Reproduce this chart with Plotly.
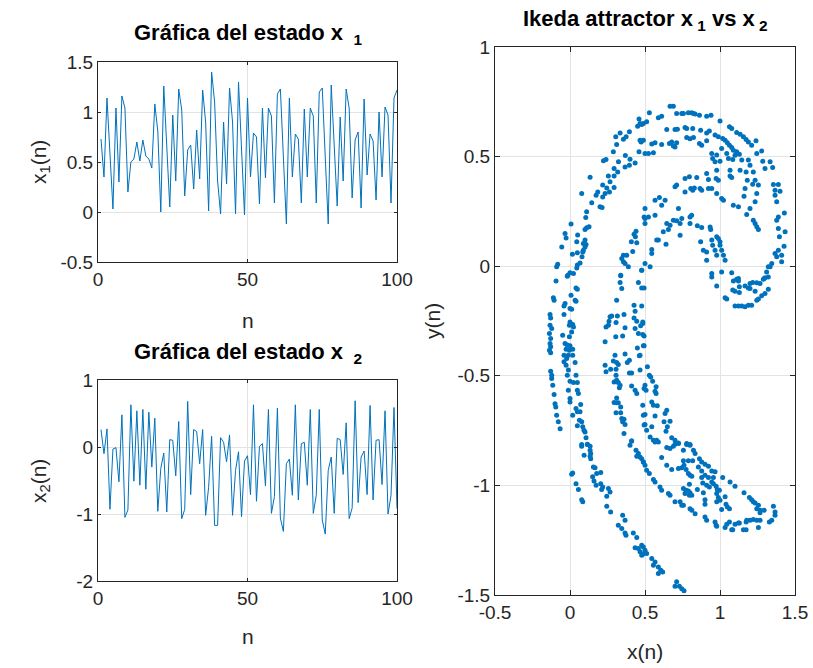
import plotly.graph_objects as go

# ---------------- time series ----------------
n = list(range(1, 101))

x1_vals = [0.73, 0.35, 1.14, 0.60, 0.03, 1.04, 0.30, 1.16, 1.04, 0.20,
           0.50, 0.53, 0.70, 0.51, 0.72, 0.56, 0.53, 0.44, 1.08, 0.81,
           0.00, 1.26, 0.60, 0.05, 0.97, 0.31, 1.23, 1.02, 0.16, 0.62,
           0.67, 0.23, 0.82, 0.33, 1.22, 0.90, 0.01, 1.40, 1.10, 0.31,
           -0.02, 0.90, 0.28, 1.24, 0.90, -0.02, 1.30, 0.57, -0.03, 1.14,
           0.35, 0.79, 0.75, 0.08, 1.04, 0.34, 1.04, 0.96, 0.09, 1.18,
           1.23, 0.55, -0.12, 1.14, 0.35, 0.78, 0.73, 0.09, 1.03, 0.35,
           1.04, 0.96, 0.09, 1.20, 1.24, 0.55, -0.12, 1.27, 0.60, 0.06,
           0.95, 0.31, 1.23, 1.04, 0.14, 0.72, 0.80, 0.04, 1.13, 0.37,
           0.78, 0.71, 0.12, 1.00, 0.35, 1.05, 0.97, 0.09, 1.14, 1.22]

x2_vals = [0.26, -0.10, 0.27, -0.93, -0.03, -0.01, -0.52, 0.48, -1.05, -0.94,
           0.63, -0.51, 0.54, -0.57, 0.56, -0.63, 0.52, -0.30, 0.43, -0.96,
           -0.32, -0.09, -0.97, 0.11, 0.10, -0.43, 0.38, -1.07, -0.93, 0.68,
           -0.71, 0.26, 0.23, -0.25, 0.26, -1.02, -0.60, 0.16, -1.17, -1.17,
           0.14, 0.07, -0.22, 0.18, -1.02, -0.35, -0.07, -1.04, -0.21, -0.13,
           -0.71, 0.63, -0.81, 0.01, 0.05, -0.58, 0.56, -0.99, -0.74, 0.58,
           -1.06, -1.26, -0.25, -0.18, -0.72, 0.63, -0.79, 0.05, 0.07, -0.57,
           0.56, -0.99, -0.72, 0.56, -1.09, -1.30, -0.35, -0.15, -0.99, 0.13,
           0.11, -0.41, 0.36, -1.07, -0.91, 0.69, -0.83, -0.15, -0.06, -0.71,
           0.62, -0.79, 0.10, 0.11, -0.56, 0.54, -1.00, -0.72, 0.59, -0.92]

# ---------------- attractor points (x, y) ----------------
upper_left_arcs = [
    [0.460, 0.671], [0.451, 0.639], [0.478, 0.646], [0.396, 0.613], [0.374, 0.590],
    [0.356, 0.579], [0.334, 0.608], [0.305, 0.590], [0.311, 0.555], [0.289, 0.522],
    [0.474, 0.567], [0.460, 0.522], [0.369, 0.505], [0.400, 0.488], [0.434, 0.471],
    [0.396, 0.461], [0.367, 0.453], [0.323, 0.476], [0.318, 0.430], [0.294, 0.446],
    [0.294, 0.411], [0.267, 0.385], [0.240, 0.487], [0.223, 0.481], [0.256, 0.412],
    [0.218, 0.370], [0.245, 0.357], [0.263, 0.339], [0.294, 0.359], [0.234, 0.332],
    [0.218, 0.316], [0.185, 0.339], [0.174, 0.324], [0.200, 0.271], [0.214, 0.268],
    [0.078, 0.332], [0.134, 0.406], [0.145, 0.289], [0.111, 0.248], [0.105, 0.222],
    [0.127, 0.180], [0.111, 0.175], [0.100, 0.167], [0.007, 0.192], [-0.033, 0.149],
    [-0.026, 0.129], [-0.055, 0.088], [0.051, 0.142], [0.045, 0.111], [0.100, 0.119],
    [0.089, 0.103], [0.107, 0.099], [0.100, 0.088], [0.089, 0.073], [0.085, 0.065],
    [0.049, 0.061], [0.016, 0.055], [0.080, 0.043], [0.067, 0.015], [0.049, 0.005],
    [0.045, -0.008], [0.000, -0.030], [-0.015, -0.041], [0.023, -0.033], [-0.082, 0.009],
    [-0.089, -0.003], [0.440, 0.160], [0.427, 0.146], [0.436, 0.134], [0.409, 0.111],
    [0.445, 0.107], [0.418, 0.067], [0.356, 0.050], [0.378, 0.050], [0.345, 0.035],
    [0.356, 0.020], [0.367, 0.012], [0.389, -0.003], [0.338, -0.041], [0.478, -0.018],
    [0.494, 0.225],
]

upper_right_arcs = [
    [0.667, 0.730], [0.689, 0.730], [0.711, 0.697], [0.745, 0.697], [0.756, 0.697],
    [0.789, 0.700], [0.811, 0.700], [0.823, 0.697], [0.834, 0.694], [0.863, 0.689],
    [0.911, 0.684], [0.940, 0.689], [1.000, 0.662], [1.063, 0.636], [1.078, 0.628],
    [1.111, 0.610], [1.134, 0.602], [1.156, 0.590], [1.174, 0.578], [1.189, 0.567],
    [1.240, 0.572], [1.211, 0.552], [1.245, 0.514], [1.278, 0.526], [1.285, 0.479],
    [1.300, 0.446], [1.334, 0.476], [1.351, 0.450], [1.356, 0.373], [1.389, 0.373],
    [1.367, 0.347], [1.400, 0.342], [1.367, 0.324], [1.378, 0.294], [1.429, 0.243],
    [1.389, 0.225], [1.378, 0.210], [1.434, 0.157], [1.389, 0.172], [1.396, 0.134],
    [1.427, 0.091], [1.389, 0.073], [1.367, 0.058], [1.411, 0.050], [1.378, 0.043],
    [1.411, 0.020], [1.345, 0.012], [1.334, -0.003], [1.311, -0.026], [1.294, -0.056],
    [0.467, 0.651], [0.489, 0.651], [0.511, 0.659], [0.529, 0.700], [0.589, 0.677],
    [0.611, 0.684], [0.467, 0.575], [0.489, 0.575], [0.500, 0.514], [0.523, 0.514],
    [0.556, 0.517], [0.545, 0.557], [0.567, 0.563],
    [0.645, 0.624], [0.700, 0.624], [0.716, 0.625], [0.767, 0.633], [0.778, 0.628],
    [0.818, 0.628], [0.871, 0.620], [0.911, 0.608], [0.929, 0.617], [0.967, 0.598],
    [0.989, 0.590], [1.018, 0.583], [1.034, 0.575], [1.049, 0.563], [1.063, 0.552],
    [1.078, 0.541], [1.089, 0.529], [1.111, 0.522], [1.129, 0.511], [1.145, 0.484],
    [1.189, 0.484], [1.200, 0.461], [1.222, 0.430], [1.234, 0.392], [1.218, 0.374],
    [1.256, 0.370], [1.245, 0.332], [1.160, 0.319], [1.234, 0.294], [1.200, 0.263],
    [1.178, 0.236], [1.222, 0.210], [1.234, 0.195], [1.245, 0.180], [1.256, 0.167],
    [0.611, 0.555], [0.663, 0.560], [0.678, 0.567], [0.689, 0.548], [0.711, 0.563],
    [0.700, 0.544], [0.778, 0.587], [0.800, 0.582], [0.823, 0.587], [0.863, 0.560],
    [0.878, 0.552], [0.911, 0.572], [0.945, 0.514], [0.951, 0.491], [0.978, 0.507],
    [0.967, 0.476], [1.000, 0.479], [1.011, 0.537], [1.045, 0.514], [1.056, 0.491],
    [1.085, 0.487], [1.100, 0.506], [0.978, 0.438], [0.974, 0.400], [0.989, 0.392],
    [1.067, 0.438], [1.067, 0.411], [1.078, 0.405], [1.134, 0.438], [1.174, 0.430],
    [1.182, 0.392], [1.167, 0.354],
    [0.767, 0.400], [0.796, 0.408], [0.845, 0.405], [0.911, 0.423], [0.923, 0.395],
    [0.867, 0.354], [0.818, 0.347], [0.805, 0.354], [0.829, 0.357], [0.767, 0.339],
    [0.700, 0.362], [0.711, 0.370], [0.878, 0.347], [0.923, 0.354], [0.945, 0.354],
    [0.978, 0.332], [1.011, 0.309], [1.023, 0.301], [1.089, 0.278], [1.123, 0.271],
    [0.567, 0.301], [0.596, 0.313], [0.634, 0.301], [0.611, 0.278], [0.500, 0.263],
    [0.567, 0.233], [0.523, 0.225], [0.500, 0.218], [0.500, 0.195], [0.723, 0.263],
    [0.811, 0.233], [0.800, 0.225], [0.689, 0.210], [0.711, 0.207], [0.745, 0.218],
    [0.645, 0.195], [0.667, 0.187], [0.734, 0.195], [0.622, 0.157], [0.656, 0.167],
    [0.734, 0.141], [0.800, 0.195], [0.849, 0.184], [0.878, 0.176], [0.934, 0.179],
    [0.938, 0.167], [0.978, 0.134], [0.989, 0.126], [1.000, 0.111], [0.945, 0.119],
    [1.000, 0.096], [1.011, 0.073], [1.023, 0.050], [1.034, 0.027], [0.871, 0.111],
    [0.889, 0.073], [0.911, 0.065], [0.951, 0.096], [0.967, 0.073], [0.911, 0.027],
    [0.978, 0.050], [0.589, 0.119], [0.578, 0.119], [0.640, 0.100], [0.545, 0.076],
    [0.545, 0.058], [0.500, 0.012], [0.534, -0.003], [0.478, -0.018], [0.945, -0.033],
    [1.011, -0.026], [1.078, -0.030], [1.123, -0.056], [1.322, -0.003],
]

middle_left_columns = [
    [-0.093, -0.068], [-0.111, -0.144], [-0.106, -0.155], [-0.133, -0.220], [-0.129, -0.236],
    [-0.133, -0.269], [-0.122, -0.284], [-0.137, -0.307], [-0.129, -0.330], [-0.133, -0.353],
    [-0.129, -0.368], [-0.137, -0.383], [-0.129, -0.395], [-0.129, -0.479], [-0.122, -0.497],
    [-0.122, -0.512], [-0.115, -0.543], [-0.106, -0.585], [-0.100, -0.627], [-0.095, -0.642],
    [-0.089, -0.680], [-0.078, -0.710], [-0.066, -0.741],
    [-0.018, -0.046], [0.040, -0.099], [0.049, -0.105], [0.007, -0.132], [0.034, -0.155],
    [0.040, -0.160], [-0.033, -0.170], [-0.040, -0.181], [0.000, -0.193], [0.011, -0.196],
    [-0.040, -0.220], [0.000, -0.254], [0.018, -0.266], [-0.004, -0.269], [0.023, -0.277],
    [0.011, -0.300], [-0.049, -0.315], [-0.004, -0.322], [-0.033, -0.353], [-0.018, -0.360],
    [0.000, -0.363], [-0.026, -0.379], [-0.004, -0.383], [0.018, -0.379], [-0.040, -0.406],
    [-0.011, -0.406], [0.018, -0.406], [-0.022, -0.421], [-0.040, -0.436], [0.034, -0.439],
    [-0.026, -0.452], [-0.011, -0.474], [-0.018, -0.497], [0.040, -0.497], [0.000, -0.525],
    [0.023, -0.531], [0.049, -0.531], [-0.011, -0.566], [0.049, -0.566], [0.056, -0.581],
    [0.000, -0.604], [0.000, -0.619], [0.071, -0.631], [0.040, -0.649], [0.049, -0.664],
    [0.067, -0.664], [0.018, -0.680], [0.063, -0.703], [0.078, -0.710], [0.049, -0.728],
    [0.085, -0.733], [0.093, -0.748], [0.100, -0.756], [0.107, -0.783], [0.078, -0.813],
    [0.116, -0.813],
    [0.338, -0.044], [0.334, -0.074], [0.345, -0.102], [0.311, -0.155], [0.456, -0.074],
    [0.478, -0.099], [0.427, -0.178], [0.360, -0.220], [0.316, -0.227], [0.278, -0.227],
    [0.267, -0.231], [0.307, -0.257], [0.260, -0.251], [0.240, -0.277], [0.256, -0.269],
    [0.367, -0.281], [0.427, -0.236], [0.434, -0.205], [0.445, -0.251], [0.434, -0.284],
    [0.456, -0.307], [0.485, -0.261], [0.489, -0.363], [0.305, -0.322], [0.351, -0.318],
    [0.234, -0.345], [0.449, -0.373], [0.462, -0.409], [0.300, -0.406], [0.367, -0.401],
    [0.289, -0.433], [0.311, -0.439], [0.322, -0.449], [0.382, -0.439], [0.396, -0.429],
    [0.234, -0.452], [0.271, -0.470], [0.240, -0.482], [0.307, -0.470], [0.396, -0.487],
    [0.411, -0.487], [0.307, -0.497], [0.311, -0.520], [0.322, -0.531], [0.334, -0.543],
    [0.294, -0.528], [0.411, -0.546], [0.329, -0.555], [0.434, -0.566], [0.445, -0.581],
    [0.494, -0.558], [0.311, -0.601], [0.294, -0.622], [0.311, -0.623], [0.322, -0.623],
    [0.338, -0.642], [0.307, -0.668], [0.338, -0.668], [0.345, -0.695], [0.360, -0.698],
    [0.351, -0.710], [0.367, -0.722], [0.360, -0.763], [0.411, -0.798], [0.485, -0.634],
    [0.489, -0.680], [0.494, -0.725],
]

middle_right_curl = [
    [0.945, -0.049], [0.978, -0.090], [1.089, -0.068], [1.111, -0.059], [1.123, -0.068],
    [1.085, -0.109], [1.100, -0.114], [1.129, -0.094], [1.129, -0.120], [1.167, -0.090],
    [1.189, -0.099], [1.200, -0.102], [1.200, -0.079], [1.218, -0.074], [1.234, -0.114],
    [1.245, -0.076], [1.267, -0.079], [1.289, -0.059], [1.300, -0.053], [1.322, -0.049],
    [1.322, -0.105], [1.300, -0.125], [1.278, -0.135], [1.256, -0.150], [1.245, -0.155],
    [1.034, -0.144], [1.045, -0.150], [1.100, -0.181], [1.123, -0.181], [1.145, -0.181],
    [1.167, -0.185], [1.189, -0.178], [1.211, -0.178],
    [0.494, -0.099], [0.478, -0.181], [0.485, -0.254], [0.471, -0.272], [0.485, -0.312],
    [0.494, -0.318], [0.494, -0.363], [0.467, -0.406], [0.516, -0.459], [0.467, -0.474],
    [0.529, -0.497], [0.538, -0.505], [0.551, -0.525], [0.500, -0.543], [0.507, -0.566],
    [0.574, -0.550], [0.567, -0.570], [0.574, -0.581], [0.545, -0.619], [0.556, -0.634],
    [0.582, -0.637], [0.500, -0.677], [0.567, -0.683], [0.645, -0.657], [0.634, -0.672],
    [0.627, -0.710], [0.667, -0.707], [0.500, -0.722], [0.545, -0.733], [0.511, -0.748],
    [0.649, -0.733], [0.640, -0.753], [0.534, -0.779], [0.556, -0.794], [0.578, -0.794],
    [0.678, -0.783], [0.700, -0.794], [0.723, -0.809], [0.778, -0.813], [0.800, -0.813],
]

lower_left_tail = [
    [0.078, -0.821], [0.116, -0.812], [0.134, -0.821], [0.134, -0.840], [0.138, -0.855],
    [0.134, -0.867], [0.138, -0.878], [0.094, -0.862], [0.156, -0.916], [0.167, -0.919],
    [0.178, -0.946], [0.205, -0.941], [0.151, -0.961], [0.160, -0.980], [0.174, -0.999],
    [0.205, -0.992], [0.218, -1.007], [0.211, -1.019], [0.256, -1.014], [0.267, -1.030],
    [0.245, -1.049], [0.018, -0.943], [0.011, -0.949], [0.040, -0.992], [0.056, -1.019],
    [0.078, -1.065], [0.085, -1.075], [0.245, -1.095], [0.271, -1.121], [0.351, -1.136],
    [0.367, -1.159], [0.322, -1.182], [0.345, -1.197], [0.367, -1.217], [0.373, -1.227],
    [0.422, -1.217], [0.445, -1.238], [0.434, -1.284], [0.456, -1.288], [0.478, -1.273],
    [0.467, -1.303], [0.485, -1.314], [0.400, -0.817], [0.411, -0.797], [0.440, -0.840],
    [0.456, -0.855], [0.445, -0.867], [0.478, -0.878], [0.489, -0.893],
]

lower_right_loop = [
    [0.489, -1.281], [0.500, -1.296], [0.511, -1.311], [0.478, -1.319], [0.545, -1.334],
    [0.567, -1.349], [0.556, -1.364], [0.589, -1.372], [0.605, -1.387], [0.589, -1.402],
    [0.618, -1.395], [0.711, -1.440], [0.700, -1.460], [0.729, -1.460], [0.745, -1.471],
    [0.760, -1.481],
    [0.567, -0.802], [0.589, -0.802], [0.645, -0.827], [0.667, -0.832], [0.689, -0.821],
    [0.700, -0.812], [0.723, -0.806], [0.778, -0.809], [0.800, -0.817], [0.756, -0.840],
    [0.823, -0.840], [0.834, -0.855], [0.467, -0.870], [0.489, -0.893], [0.500, -0.908],
    [0.511, -0.931], [0.529, -0.946], [0.611, -0.873], [0.645, -0.908], [0.678, -0.928],
    [0.723, -0.923], [0.756, -0.888], [0.789, -0.888], [0.818, -0.888], [0.760, -0.908],
    [0.745, -0.919], [0.774, -0.928], [0.789, -0.946], [0.800, -0.954], [0.812, -0.958],
    [0.863, -0.878], [0.878, -0.893], [0.900, -0.904], [0.923, -0.913], [0.945, -0.934],
    [0.967, -0.938], [0.878, -0.964], [0.900, -0.954], [0.923, -0.964], [0.956, -0.964],
    [0.856, -0.916], [0.878, -0.934],
    [0.556, -0.973], [0.567, -0.984], [0.600, -1.007], [0.611, -1.022], [0.656, -1.037],
    [0.667, -1.045], [0.700, -1.075], [0.734, -1.075], [0.745, -1.090], [0.756, -1.090],
    [0.800, -1.106], [0.812, -1.113], [0.834, -1.129], [0.900, -1.144], [0.911, -1.159],
    [0.967, -1.167], [0.978, -1.186], [1.034, -1.192], [1.045, -1.177], [1.063, -1.167],
    [1.078, -1.202], [1.100, -1.177], [1.129, -1.171], [1.156, -1.202], [1.174, -1.202],
    [1.174, -1.167], [1.200, -1.159], [1.222, -1.156], [1.245, -1.159], [1.256, -1.192],
    [1.267, -1.159], [1.329, -1.167], [1.345, -1.159], [1.367, -1.136], [1.367, -1.121],
    [1.356, -1.095],
    [0.756, -1.014], [0.774, -1.022], [0.789, -1.025], [0.800, -1.034], [0.812, -1.045],
    [0.796, -1.045], [0.767, -1.037], [0.796, -0.995], [0.849, -1.019], [0.889, -1.034],
    [0.900, -1.065], [0.900, -1.086], [0.885, -0.989], [0.911, -0.999], [0.929, -1.007],
    [0.945, -0.984], [0.956, -0.992], [0.974, -1.004], [0.982, -1.019], [0.996, -1.022],
    [0.978, -1.037], [0.989, -1.055], [0.978, -1.075], [1.000, -1.068], [1.018, -0.964],
    [1.034, -1.052], [1.040, -1.086], [1.049, -1.098], [1.063, -1.106], [1.067, -0.984],
    [1.100, -1.004], [1.160, -1.034], [1.196, -1.055], [1.211, -1.065], [1.222, -1.075],
    [1.234, -1.080], [1.256, -1.090], [1.245, -1.106], [1.267, -1.113], [1.294, -1.113],
    [1.267, -1.125], [1.011, -1.110], [0.974, -1.182], [1.085, -1.202], [1.123, -1.171],
    [1.178, -1.159],
]

attractor_regions = [upper_left_arcs, upper_right_arcs, middle_left_columns,
                     middle_right_curl, lower_left_tail, lower_right_loop]
attr_x = [p[0] for region in attractor_regions for p in region]
attr_y = [p[1] for region in attractor_regions for p in region]

# ---------------- tick labels ----------------
ts_x_ticks = [0, 50, 100]
ts_x_text = ["0", "50", "100"]
x1_ticks = [-0.5, 0, 0.5, 1, 1.5]
x1_text = ["-0.5", "0", "0.5", "1", "1.5"]
x2_ticks = [-2, -1, 0, 1]
x2_text = ["-2", "-1", "0", "1"]
att_x_ticks = [-0.5, 0, 0.5, 1, 1.5]
att_x_text = ["-0.5", "0", "0.5", "1", "1.5"]
att_y_ticks = [-1.5, -1, -0.5, 0, 0.5, 1]
att_y_text = ["-1.5", "-1", "-0.5", "0", "0.5", "1"]

# ---------------- figure ----------------
W, H = 813, 668
BLUE = "#0072BD"
AX = "#262626"
GRID = "#e3e3e3"
FONT = "Liberation Sans, Arial, sans-serif"


def px(x):
    return x / W


def py(y):
    return 1 - y / H


fig = go.Figure()
fig.add_trace(go.Scatter(x=n, y=x1_vals, mode="lines", line=dict(color=BLUE, width=1),
                         xaxis="x", yaxis="y", showlegend=False))
fig.add_trace(go.Scatter(x=n, y=x2_vals, mode="lines", line=dict(color=BLUE, width=1),
                         xaxis="x2", yaxis="y2", showlegend=False))
fig.add_trace(go.Scatter(x=attr_x, y=attr_y, mode="markers",
                         marker=dict(color=BLUE, size=5, line=dict(width=0)),
                         xaxis="x3", yaxis="y3", showlegend=False))

common = dict(showline=True, linecolor=AX, linewidth=1, mirror="ticks",
              ticks="inside", tickcolor=AX, showgrid=True, gridcolor=GRID,
              gridwidth=1, zeroline=False, tickfont=dict(family=FONT, size=19, color=AX),
              tickmode="array", automargin=False)

left_dom = [px(98), px(397)]
right_dom = [px(495), px(795)]

fig.update_layout(
    width=W, height=H,
    margin=dict(l=0, r=0, t=0, b=0, autoexpand=False),
    paper_bgcolor="white", plot_bgcolor="white",
    font=dict(family=FONT, color="black"),
    xaxis=dict(domain=left_dom, range=[0, 100], tickvals=ts_x_ticks, ticktext=ts_x_text,
               anchor="y", ticklen=3, **common),
    yaxis=dict(domain=[py(262), py(62)], range=[-0.5, 1.5], tickvals=x1_ticks,
               ticktext=x1_text, anchor="x", ticklen=3, **common),
    xaxis2=dict(domain=left_dom, range=[0, 100], tickvals=ts_x_ticks, ticktext=ts_x_text,
                anchor="y2", ticklen=3, **common),
    yaxis2=dict(domain=[py(581), py(380)], range=[-2, 1], tickvals=x2_ticks,
                ticktext=x2_text, anchor="x2", ticklen=3, **common),
    xaxis3=dict(domain=right_dom, range=[-0.5, 1.5], tickvals=att_x_ticks,
                ticktext=att_x_text, anchor="y3", ticklen=5, **common),
    yaxis3=dict(domain=[py(595), py(47)], range=[-1.5, 1], tickvals=att_y_ticks,
                ticktext=att_y_text, anchor="x3", ticklen=5, **common),
)

title_font = dict(family=FONT, size=22, color="black", weight="bold")
label_font = dict(family=FONT, size=21, color=AX)

annotations = [
    dict(text="<b>Gráfica del estado x&nbsp;<sub> 1</sub></b>", x=px(248), y=py(34),
         font=title_font),
    dict(text="<b>Gráfica del estado x&nbsp;<sub> 2</sub></b>", x=px(248), y=py(353),
         font=title_font),
    dict(text="<b>Ikeda attractor x<sub> 1</sub> vs x<sub> 2</sub></b>", x=px(645),
         y=py(20), font=title_font),
    dict(text="n", x=px(248), y=py(320), font=label_font),
    dict(text="n", x=px(248), y=py(636), font=label_font),
    dict(text="x(n)", x=px(645), y=py(651), font=label_font),
    dict(text="x<sub>1</sub>(n)", x=px(40), y=py(162), font=label_font, textangle=-90),
    dict(text="x<sub>2</sub>(n)", x=px(40), y=py(481), font=label_font, textangle=-90),
    dict(text="y(n)", x=px(432), y=py(321), font=label_font, textangle=-90),
]
for a in annotations:
    a.update(xref="paper", yref="paper", showarrow=False, xanchor="center",
             yanchor="middle")
fig.update_layout(annotations=annotations)

# the page itself should add no spacing around the figure
fig.write_html("out.html",
               post_script="document.body.style.margin='0';"
                           "document.body.style.overflow='hidden';")
